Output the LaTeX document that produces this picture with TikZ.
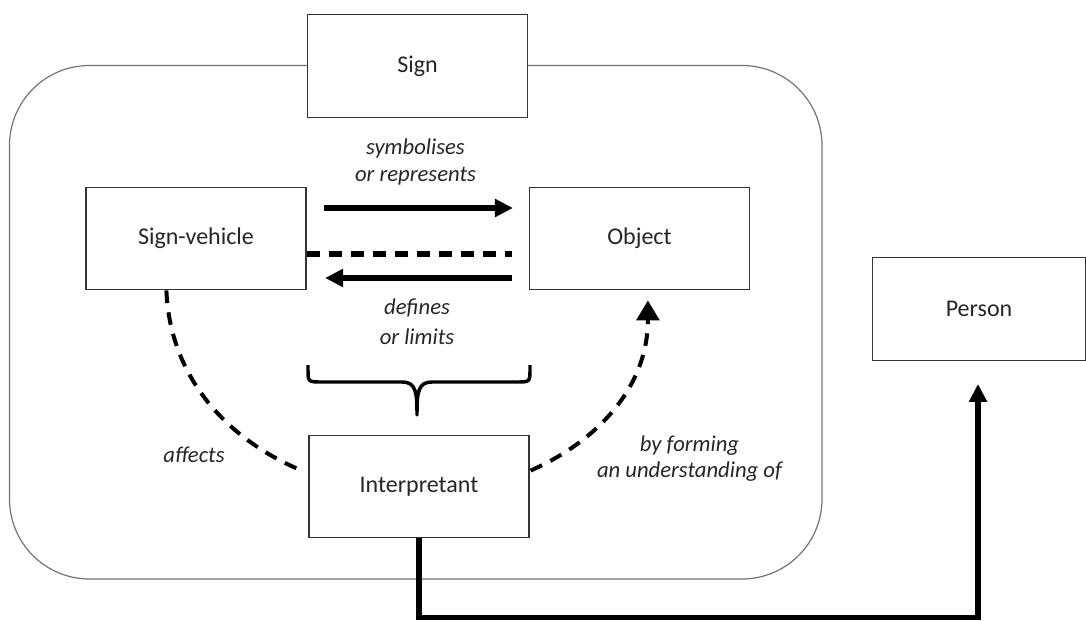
\documentclass[tikz,border=0pt]{standalone}
\usepackage{fontspec}
\setmainfont{Carlito}
\usetikzlibrary{arrows.meta,calc}
\begin{document}
\begin{tikzpicture}[x=0.75pt,y=-0.75pt,
  box/.style={draw=black!80, line width=0.9pt, fill=white, minimum width=165pt, minimum height=77pt, inner sep=0pt, font=\fontsize{18}{21}\selectfont, text=black!85},
  lbl/.style={font=\fontsize{17}{20}\selectfont\itshape, text=black!85, inner sep=0pt},
  bigarrow/.style={line width=4.2pt, -{Triangle[length=13.5pt,width=13pt]}},
  dline/.style={line width=4pt, dash pattern=on 10pt off 6.5pt},
  dcurve/.style={line width=3pt, dash pattern=on 9.5pt off 7pt},
  brace/.style={line width=2.6pt, line join=round}
]
\useasboundingbox (0,0) rectangle (1086,621);
% container
\draw[draw=black!55, line width=0.9pt, rounded corners=60pt] (9.5,65.5) rectangle (822,579);
% boxes
\node[box] (sign) at (417.5,66) {Sign};
\node[box] (sv) at (196,238.5) {Sign-vehicle};
\node[box] (obj) at (639.5,238.5) {Object};
\node[box] (interp) at (419,486.5) {Interpretant};
\node[box, minimum width=160pt] (person) at (979,309) {Person};
% labels
\node[lbl] (l1) at (415.5,148) {symbolises};
\node[lbl] (l2) at (415.5,176) {or represents};
\node[lbl] (l3) at (417,308) {defines};
\node[lbl] (l4) at (417,337) {or limits};
\node[lbl] (l5) at (194,455) {affects};
\node[lbl] (l6) at (689.5,446) {by forming};
\node[lbl] (l7) at (689.5,472) {an understanding of};
% horizontal connectors
\draw[bigarrow] ($(sv.east)+(17.5,-30.5)$) -- ($(obj.west)+(-16,-30.5)$);
\draw[dline] ($(sv.east)+(0,15.5)$) -- ($(obj.west)+(-17,15.5)$);
\draw[bigarrow] ($(obj.west)+(-17,39.5)$) -- ($(sv.east)+(18.5,39.5)$);
% curved connectors
\coordinate (c1) at ($(interp.north west)+(-9,35)$);
\draw[dcurve] ($(sv.south west)+(81,0)$) .. controls (170,380) and (230,440) .. (c1);
\coordinate (c2) at ($(obj.south west)+(119,10)$);
\draw[dcurve, -{Triangle[length=15pt,width=17pt]}] ($(interp.north east)+(1,36)$) .. controls (600,440) and (648,385) .. (c2);
% brace
\draw[brace] (308,365) -- (308,369) .. controls (308,382) .. (322,382) -- (402,382) .. controls (416,382) and (417,392) .. (417,415) .. controls (417,392) and (418,382) .. (432,382) -- (516,382) .. controls (530,382) .. (530,369) -- (530,365);
% bottom connector
\coordinate (pin) at ($(person.south)+(-1,23)$);
\draw[line width=3.9pt, -{Triangle[length=13.5pt,width=13pt]}] (interp.south) -- ++(0,79) -| (pin);
\end{tikzpicture}
\end{document}
